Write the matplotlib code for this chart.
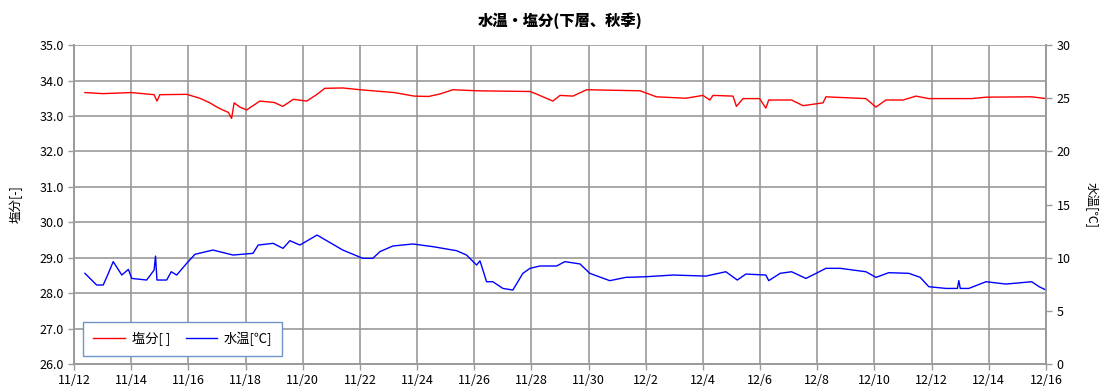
import matplotlib.pyplot as plt

plt.rcParams['font.family'] = ['Noto Sans CJK JP', 'DejaVu Sans']

# days since 11/12
sal_day = [0.38, 1.0, 2.0, 2.8, 2.9, 3.0, 3.94, 4.4, 4.75, 5.0, 5.2, 5.4, 5.51, 5.6, 5.8,
           6.04, 6.5, 7.0, 7.3, 7.67, 8.14, 8.5, 8.77, 9.4, 10.0, 11.2, 11.9, 12.4, 12.8,
           13.25, 14.1, 15.95, 16.2, 16.75, 17.0, 17.45, 17.93, 19.8, 20.37, 21.4, 22.0,
           22.24, 22.35, 23.05, 23.17, 23.4, 23.98, 24.2, 24.3, 25.1, 25.5, 26.2, 26.3,
           27.7, 28.05, 28.4, 29.0, 29.45, 29.9, 31.4, 31.9, 33.5, 34.0]
salinity = [33.66, 33.63, 33.66, 33.60, 33.42, 33.60, 33.61, 33.50, 33.37, 33.25, 33.17,
            33.10, 32.93, 33.37, 33.25, 33.17, 33.42, 33.38, 33.27, 33.47, 33.42, 33.61,
            33.78, 33.79, 33.74, 33.66, 33.56, 33.55, 33.62, 33.74, 33.71, 33.69, 33.61,
            33.42, 33.58, 33.56, 33.74, 33.71, 33.54, 33.50, 33.58, 33.45, 33.58, 33.56,
            33.27, 33.49, 33.49, 33.22, 33.45, 33.45, 33.29, 33.37, 33.54, 33.49, 33.25,
            33.45, 33.45, 33.56, 33.49, 33.49, 33.53, 33.54, 33.49]

tmp_day = [0.38, 0.79, 1.02, 1.2, 1.37, 1.67, 1.9, 2.02, 2.54, 2.8, 2.85, 2.9, 3.24, 3.4,
           3.59, 3.94, 4.23, 4.86, 5.56, 6.26, 6.44, 6.96, 7.31, 7.55, 7.9, 8.5, 8.8, 9.4,
           10.1, 10.45, 10.7, 11.15, 11.85, 12.55, 13.38, 13.73, 14.08, 14.2, 14.43, 14.65,
           15.0, 15.35, 15.7, 15.95, 16.3, 16.88, 17.17, 17.7, 18.04, 18.74, 19.3, 20.0,
           20.96, 22.1, 22.8, 23.2, 23.5, 24.2, 24.3, 24.7, 25.1, 25.6, 25.96, 26.3, 26.8,
           27.7, 28.05, 28.5, 29.2, 29.6, 29.9, 30.5, 30.9, 30.95, 31.0, 31.3, 31.9, 32.6,
           33.5, 33.76, 34.0]
water_temp = [8.53, 7.43, 7.43, 8.53, 9.63, 8.37, 8.90, 8.05, 7.90, 8.84, 10.15, 7.90, 7.90,
              8.68, 8.37, 9.47, 10.32, 10.72, 10.25, 10.41, 11.19, 11.35, 10.88, 11.60,
              11.19, 12.13, 11.66, 10.72, 9.94, 9.94, 10.57, 11.10, 11.29, 11.04, 10.66,
              10.25, 9.31, 9.70, 7.74, 7.74, 7.11, 6.96, 8.53, 9.00, 9.22, 9.22, 9.63, 9.41,
              8.53, 7.84, 8.15, 8.21, 8.37, 8.27, 8.68, 7.90, 8.46, 8.37, 7.84, 8.53, 8.68,
              8.05, 8.53, 9.00, 9.00, 8.68, 8.15, 8.59, 8.53, 8.15, 7.27, 7.11, 7.11, 7.84,
              7.11, 7.11, 7.74, 7.52, 7.74, 7.27, 6.96]

tick_days = list(range(0, 35, 2))
tick_labels = ['11/12', '11/14', '11/16', '11/18', '11/20', '11/22', '11/24', '11/26',
               '11/28', '11/30', '12/2', '12/4', '12/6', '12/8', '12/10', '12/12',
               '12/14', '12/16']

fig = plt.figure(figsize=(11.02, 3.92), dpi=100)
ax = fig.add_axes([0.0672, 0.0714, 0.882, 0.8136])
ax2 = ax.twinx()

grid_c = '#9a9a9a'
l1, = ax.plot(sal_day, salinity, color='#ff0000', lw=1.0, label='塩分[ ]')
l2, = ax2.plot(tmp_day, water_temp, color='#0000ff', lw=1.0, label='水温[℃]')

ax.set_xlim(0, 34)
ax.set_ylim(26.0, 35.0)
ax2.set_ylim(0, 30)
ax.set_xticks(tick_days)
ax.set_xticklabels(tick_labels)
ax.set_yticks([26 + i for i in range(10)])
ax.set_yticklabels(['%.1f' % (26 + i) for i in range(10)])
ax2.set_yticks(range(0, 31, 5))
ax.grid(True, color=grid_c, lw=1.2)
ax.set_axisbelow(True)

for a in (ax, ax2):
    for s in a.spines.values():
        s.set_color(grid_c)
        s.set_linewidth(1.2)
    a.spines['top'].set_visible(False)
    a.tick_params(labelsize=9, length=4, color=grid_c, width=1)

ax.set_ylabel('塩分[-]', fontsize=9, labelpad=12)
ax2.set_ylabel('水温[℃]', fontsize=9, rotation=-90, labelpad=20)
ax.set_title('水温・塩分(下層、秋季)', fontsize=11, fontweight='black', pad=14)

leg = ax.legend(handles=[l1, l2], loc='lower left', ncol=2, fontsize=9.5,
                bbox_to_anchor=(0.007, 0.017), fancybox=False, framealpha=1,
                handlelength=2.4, handletextpad=0.5, columnspacing=1.2,
                borderpad=0.75, borderaxespad=0.2)
leg.get_frame().set_edgecolor('#6f94c8')
leg.get_frame().set_linewidth(1.0)

fig.savefig('out.png', dpi=100)
